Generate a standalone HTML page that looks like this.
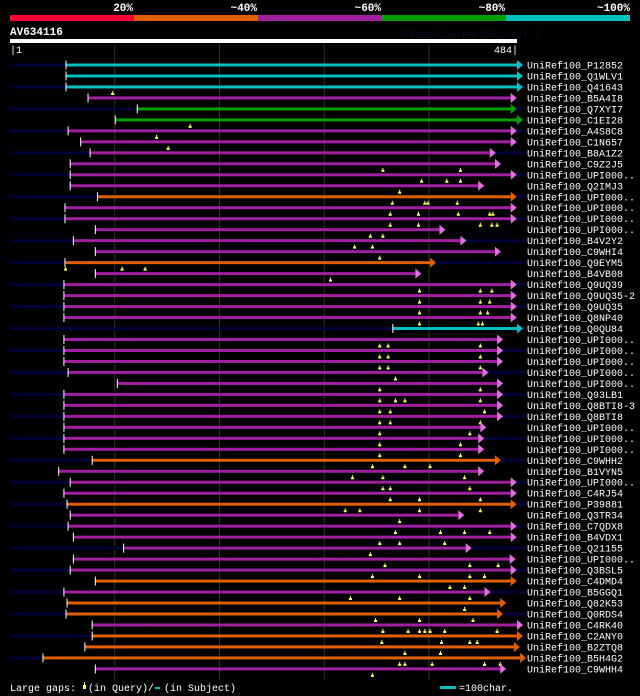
<!DOCTYPE html>
<html><head><meta charset="utf-8"><style>
html,body{margin:0;padding:0;background:#000;}
svg{display:block;}
text{font-family:"Liberation Mono","DejaVu Sans Mono",monospace;}
</style></head><body>
<svg id="chart" width="640" height="696" xmlns="http://www.w3.org/2000/svg">
<rect x="0" y="0" width="640" height="696" fill="#000"/>
<g>
<rect x="10" y="15" width="124" height="6" fill="#ff0030"/>
<rect x="134" y="15" width="124" height="6" fill="#e06000"/>
<rect x="258" y="15" width="124" height="6" fill="#a020a0"/>
<rect x="382" y="15" width="124" height="6" fill="#00a000"/>
<rect x="506" y="15" width="124" height="6" fill="#00c0c0"/>
<text x="133" y="11" fill="#fff" font-size="11" font-weight="bold" text-anchor="end">20%</text>
<text x="257" y="11" fill="#fff" font-size="11" font-weight="bold" text-anchor="end">~40%</text>
<text x="381" y="11" fill="#fff" font-size="11" font-weight="bold" text-anchor="end">~60%</text>
<text x="505" y="11" fill="#fff" font-size="11" font-weight="bold" text-anchor="end">~80%</text>
<text x="630" y="11" fill="#fff" font-size="11" font-weight="bold" text-anchor="end">~100%</text>
</g>
<text x="10" y="35" fill="#fff" font-size="11" font-weight="bold">AV634116</text>
<text x="402" y="37" fill="#0a0a2a" font-size="10">AlignView.pm Beta rel.7</text>
<rect x="10" y="39" width="507" height="4" fill="#fff"/>
<text x="10" y="53" fill="#fff" font-size="10">|1</text>
<text x="518" y="53" fill="#fff" font-size="10" text-anchor="end">484|</text>
<g id="grid"></g>
<g id="rows"></g>
<g>
<text x="10" y="691" fill="#fff" font-size="10">Large gaps:</text>
<rect x="83" y="685" width="3" height="4" fill="#ffff60"/>
<rect x="84" y="682" width="1" height="3" fill="#ffff60"/>
<text x="88" y="691" fill="#fff" font-size="10">(in Query)/</text>
<rect x="155" y="687" width="5" height="2" fill="#00c0c0"/>
<text x="164" y="691" fill="#fff" font-size="10">(in Subject)</text>
<rect x="440" y="686" width="16" height="3" fill="#00c0c0"/>
<text x="459" y="691" fill="#fff" font-size="10">=100char.</text>
</g>
</svg>
<script>
const names=["P12852","Q1WLV1","Q41643","B5A4I8","Q7XYI7","C1EI28","A4S8C8","C1N657","B8A1Z2","C9Z2J5","UPI000..","Q2IMJ3","UPI000..","UPI000..","UPI000..","UPI000..","B4V2Y2","C9WHI4","Q9EYM5","B4VB08","Q9UQ39","Q9UQ35-2","Q9UQ35","Q8NP40","Q0QU84","UPI000..","UPI000..","UPI000..","UPI000..","UPI000..","Q93LB1","Q8BTI8-3","Q8BTI8","UPI000..","UPI000..","UPI000..","C9WHH2","B1VYN5","UPI000..","C4RJ54","P39881","Q3TR34","C7QDX8","B4VDX1","Q21155","UPI000..","Q3BSL5","C4DMD4","B5GGQ1","Q82K53","Q0RDS4","C4RK40","C2ANY0","B2ZTQ8","B5H4G2","C9WHH4"];
const identity=["c","c","c","p","g","g","p","p","p","p","p","p","o","p","p","p","p","p","o","p","p","p","p","p","c","p","p","p","p","p","p","p","p","p","p","p","o","p","p","p","o","p","p","p","p","p","p","o","p","o","o","p","o","o","o","p"];
const starts=[53,53,53,74,121,100,55,67,76,57,57,57,83,52,52,81,60,81,52,81,51,51,51,51,365,51,51,51,55,102,51,51,51,51,51,51,78,46,57,51,54,57,55,60,108,60,57,81,51,54,53,78,78,71,31,81];
const ends=[484,484,484,478,478,484,478,478,458,463,478,447,478,478,478,410,430,463,401,387,478,478,478,478,484,465,465,465,451,465,465,465,465,449,447,447,463,447,478,478,478,428,478,478,435,477,478,478,453,468,465,484,484,481,487,468];
const gaps=[[],[],[98],[],[],[172],[140],[151],[],[356,430],[393,417,430],[372],[365,396,399,427],[363,390,428,458,461],[363,390,449,460,465],[344,356],[329,346],[353],[53,107,129],[306],[391,449,460],[391,449,458],[391,449,456],[391,447,451],[],[353,361,449],[353,361,449],[353,361,449],[368],[353,449],[353,368,377,449],[353,363,453],[353,363,449],[353,439],[353,430],[353,430],[346,377,401],[327,356,434],[356,363,439],[363,391,449],[320,334,391,449],[372],[368,411,434,458],[353,372,415],[344],[358,439,466],[346,391,439,453],[420,434],[325,372,439],[434],[349,391,442],[356,380,391,396,401,415,465],[355,412,439,446],[377,411],[372,377,403,453,468],[346]];
const fill={c:"#00c0c0",g:"#00a000",p:"#a020a0",o:"#e06000"};
const tri={c:"#00c0c0",g:"#00a000",p:"#e070e0",o:"#e06000"};
const gridTicks=[100,200,300,400];
const NS="http://www.w3.org/2000/svg";
function xs(r){return 10+r*1.0475;}
function ys(i){return 65+i*10.98;}
function mk(tag,attrs,parent){const e=document.createElementNS(NS,tag);for(const k in attrs)e.setAttribute(k,attrs[k]);parent.appendChild(e);return e;}
const grid=document.getElementById('grid');
gridTicks.forEach(t=>{
  const l=mk('line',{x1:xs(t),x2:xs(t),y1:44,y2:680,stroke:"#33331a","stroke-width":1},grid);
  
  
});
const rows=document.getElementById('rows');
names.forEach((n,i)=>{
  const y=ys(i);
  const g=mk('g',{},rows);
  
  
  if(i%2===0){
    const a=mk('rect',{x:10,y:y-1.5,width:Math.max(0,xs(starts[i])-10),height:3,fill:"#000038"},g);
    
    
    const b=mk('rect',{x:xs(ends[i]),y:y-1.5,width:Math.max(0,525-xs(ends[i])),height:3,fill:"#000038"},g);
    
    
  }
  const x0=xs(starts[i]),x1=xs(ends[i]);
  const bar=mk('rect',{x:x0,y:y-1.5,width:x1-x0,height:3,fill:fill[identity[i]]},g);
  
  
  const tk=mk('rect',{x:x0,y:y-4.5,width:1,height:9,fill:"#fff"},g);
  
  
  const ar=mk('polygon',{points:`${x1},${y-5} ${x1+6},${y} ${x1},${y+5}`,fill:tri[identity[i]]},g);
  
  
  gaps[i].forEach(p=>{
    const m=mk('path',{d:`M${xs(p)-1.5},${y+8}h3v-2h-1v-2h-1v2h-1z`,fill:"#ffff60"},g);
    
    
  });
  const t=mk('text',{x:527,y:y+3.5,fill:"#fff","font-size":10},g);
  t.textContent="UniRef100_"+n;
  
  
});
</script>
</body></html>
